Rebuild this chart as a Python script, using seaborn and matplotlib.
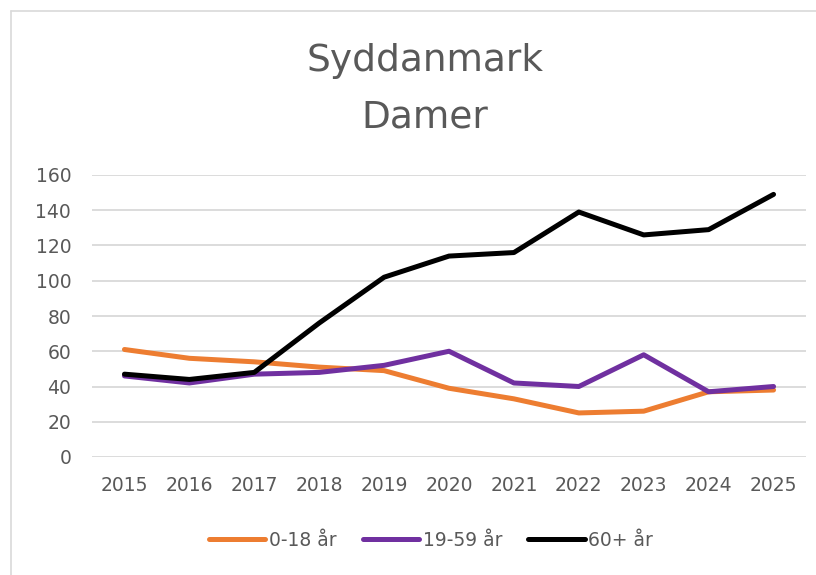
import matplotlib
matplotlib.use("Agg")
import matplotlib.pyplot as plt
import seaborn as sns
import pandas as pd
from matplotlib.lines import Line2D

years = [2015, 2016, 2017, 2018, 2019, 2020, 2021, 2022, 2023, 2024, 2025]
age_0_18 = [61, 56, 54, 51, 49, 39, 33, 25, 26, 37, 38]
age_19_59 = [46, 42, 47, 48, 52, 60, 42, 40, 58, 37, 40]
age_60_plus = [47, 44, 48, 76, 102, 114, 116, 139, 126, 129, 149]
series_names = ["0-18 år", "19-59 år", "60+ år"]
series_colors = ["#ED7D31", "#7030A0", "#000000"]
y_ticks = [0, 20, 40, 60, 80, 100, 120, 140, 160]

df = pd.DataFrame({
    "År": years * 3,
    "Antal": age_0_18 + age_19_59 + age_60_plus,
    "Alder": [series_names[0]] * len(years) + [series_names[1]] * len(years)
             + [series_names[2]] * len(years),
})

sns.set_theme(style="white")
plt.rcParams["font.family"] = ["DejaVu Sans"]
text_color = "#595959"
grid_color = "#D9D9D9"

fig = plt.figure(figsize=(8.16, 5.75), dpi=100)
ax = fig.add_axes([92 / 816, 1 - 457 / 575, (806 - 92) / 816, (457 - 175) / 575])

# outer chart frame: only the top and left edges fall inside the image
frame_x = 10.5 / 816
frame_y = 1 - 10.5 / 575
fig.lines.append(Line2D([frame_x, 1.0], [frame_y, frame_y], transform=fig.transFigure,
                        color=grid_color, linewidth=1.2))
fig.lines.append(Line2D([frame_x, frame_x], [0.0, frame_y], transform=fig.transFigure,
                        color=grid_color, linewidth=1.2))

sns.lineplot(data=df, x="År", y="Antal", hue="Alder", hue_order=series_names,
             palette=series_colors, linewidth=3.6, ax=ax, legend=True)
for line in ax.get_lines():
    line.set_solid_capstyle("round")
    line.set_solid_joinstyle("round")

ax.set_xlim(2014.5, 2025.5)
ax.set_ylim(0, 160)
ax.set_yticks(y_ticks)
ax.set_xticks(years)
ax.set_xticklabels([str(y) for y in years])
ax.yaxis.grid(True, color=grid_color, linewidth=1.3)
ax.set_axisbelow(True)
for s in ax.spines.values():
    s.set_visible(False)
ax.tick_params(axis="both", length=0, labelsize=13.5, colors=text_color)
ax.tick_params(axis="y", pad=15)
ax.tick_params(axis="x", pad=14)
ax.set_xlabel("")
ax.set_ylabel("")

fig.text(425 / 816, 1 - 61 / 575, "Syddanmark", ha="center", va="center",
         fontsize=27, color=text_color)
fig.text(425 / 816, 1 - 118 / 575, "Damer", ha="center", va="center",
         fontsize=27, color=text_color)

handles, labels = ax.get_legend_handles_labels()
ax.legend(handles, labels, loc="center", bbox_to_anchor=(431 / 816, 1 - 540 / 575),
          bbox_transform=fig.transFigure, ncol=3, frameon=False, fontsize=13.5,
          handlelength=3.0, handletextpad=0.2, columnspacing=1.4,
          labelcolor=text_color)
for lh in ax.get_legend().get_lines():
    lh.set_linewidth(3.6)
    lh.set_solid_capstyle("round")

fig.savefig("out.png", dpi=100)
